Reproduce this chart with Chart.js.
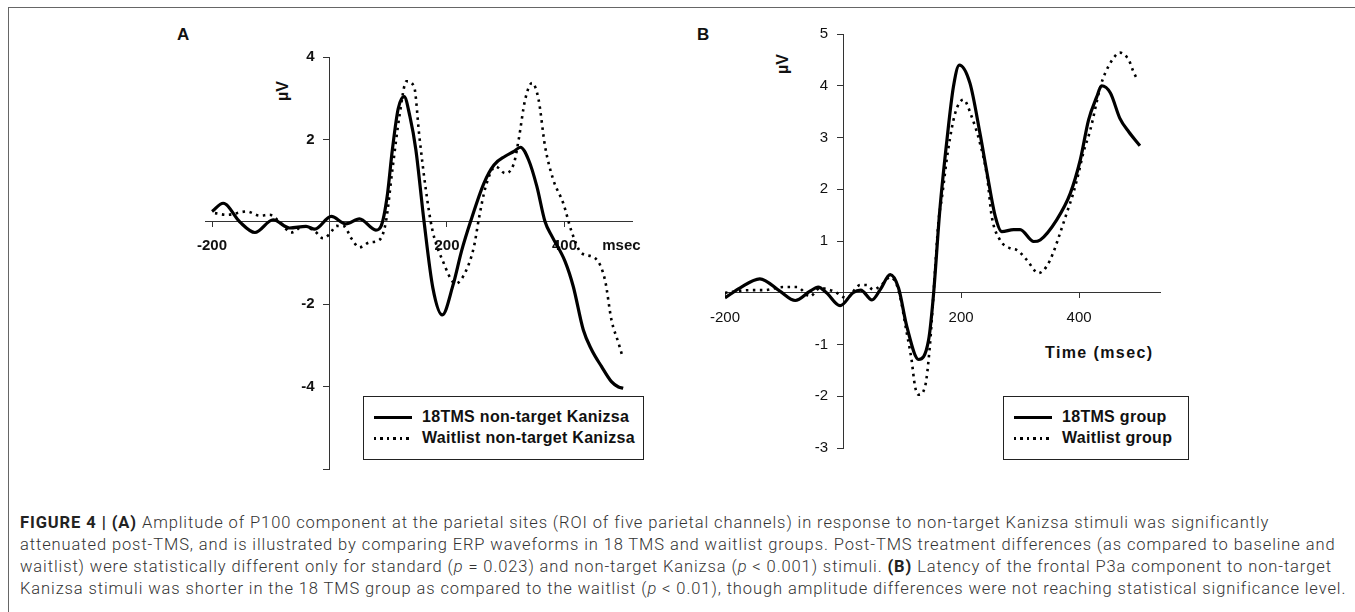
<!DOCTYPE html>
<html>
<head>
<meta charset="utf-8">
<title>ERP waveforms</title>
<script src="https://cdn.jsdelivr.net/npm/chart.js@4.4.0/dist/chart.umd.min.js"></script>
<style>
    html, body { margin: 0; padding: 0; background: #fff; }
    body { width: 1355px; height: 612px; position: relative; overflow: hidden; }
    #frame { position: absolute; left: 8px; top: 7px; width: 1360px; height: 620px;
             border-top: 1px solid #666; border-left: 1px solid #666; }
    canvas { position: absolute; }
    .lbl { position: absolute; font-family: "Liberation Sans", Arial, sans-serif; font-weight: bold; color: #111; white-space: nowrap; }
    .uv { transform: translate(-50%, -50%) rotate(-90deg); font-size: 16px; }
    .legend { position: absolute; border: 1.5px solid #222; background: #fff;
              font-family: "Liberation Sans", Arial, sans-serif; font-weight: bold; font-size: 16px; color: #111; }
    .legend .row { position: absolute; left: 0; height: 20px; line-height: 20px; white-space: nowrap; }
    .legend .smp { position: absolute; left: 10px; top: 9px; width: 38px; height: 3px; }
    .legend .solid { background: #000; }
    .legend .dots { background: repeating-linear-gradient(to right, #000 0 2.5px, transparent 2.5px 6.5px); height: 2.5px; }
    .legend .txt { position: absolute; left: 58px; top: 0; letter-spacing: 0.3px; }
    #caption { position: absolute; left: 20px; top: 512px; font-family: Roboto, "Liberation Sans", Arial, sans-serif;
               font-weight: 300; font-size: 16.5px; color: #333; }
    #caption .ln { height: 22px; line-height: 22px; white-space: nowrap; }
    #caption b { font-weight: bold; color: #222; }
</style>
</head>
<body>
<div id="frame"></div>

<div class="lbl" style="left:177px; top:25px; font-size:17px;">A</div>
<div class="lbl" style="left:697px; top:25px; font-size:17px;">B</div>
<div class="lbl uv" style="left:283px; top:91px;">µV</div>
<div class="lbl uv" style="left:783px; top:64px;">µV</div>
<div class="lbl" style="left:1045px; top:344px; font-size:16px; letter-spacing:1.4px;">Time (msec)</div>

<canvas id="chartA" width="520" height="470" style="left:150px; top:20px; width:520px; height:470px;"></canvas>
<canvas id="chartB" width="520" height="470" style="left:680px; top:10px; width:520px; height:470px;"></canvas>

<div class="legend" style="left:363px; top:396px; width:279px; height:62px;">
    <div class="row" style="top:10px;"><div class="smp solid"></div><div class="txt">18TMS non-target Kanizsa</div></div>
    <div class="row" style="top:31px;"><div class="smp dots"></div><div class="txt">Waitlist non-target Kanizsa</div></div>
</div>
<div class="legend" style="left:1003px; top:396px; width:184px; height:62px;">
    <div class="row" style="top:10px;"><div class="smp solid"></div><div class="txt">18TMS group</div></div>
    <div class="row" style="top:31px;"><div class="smp dots"></div><div class="txt">Waitlist group</div></div>
</div>

<div id="caption">
    <div class="ln"><span><b>FIGURE 4 | (A)</b> Amplitude of P100 component at the parietal sites (ROI of five parietal channels) in response to non-target Kanizsa stimuli was significantly</span></div>
    <div class="ln"><span>attenuated post-TMS, and is illustrated by comparing ERP waveforms in 18 TMS and waitlist groups. Post-TMS treatment differences (as compared to baseline and</span></div>
    <div class="ln"><span>waitlist) were statistically different only for standard (<i>p</i> = 0.023) and non-target Kanizsa (<i>p</i> &lt; 0.001) stimuli. <b>(B)</b> Latency of the frontal P3a component to non-target</span></div>
    <div class="ln"><span>Kanizsa stimuli was shorter in the 18 TMS group as compared to the waitlist (<i>p</i> &lt; 0.01), though amplitude differences were not reaching statistical significance level.</span></div>
</div>

<script>
    // panel A: parietal P100, non-target Kanizsa (ms / µV)
    const aTmsMs = [-200, -181, -153, -127, -96, -68, -40, -25, 3, 28, 51, 79, 88, 98, 107, 117, 127, 137, 147, 161, 176, 192, 210, 225, 240, 263, 280, 299, 314, 325, 339, 353, 367, 379, 401, 415, 432, 446, 463, 480, 492, 500];
    const aTmsUv = [0.25, 0.45, 0.0, -0.26, 0.05, -0.15, -0.11, -0.18, 0.13, -0.05, 0.07, -0.2, -0.1, 0.6, 1.75, 2.75, 3.04, 2.55, 1.75, 0.0, -1.61, -2.26, -1.55, -0.7, 0.0, 0.94, 1.38, 1.59, 1.71, 1.81, 1.5, 0.86, 0.0, -0.36, -0.96, -1.57, -2.62, -3.1, -3.51, -3.88, -4.01, -4.04];
    const aWaitMs = [-195, -175, -141, -119, -102, -85, -65, -45, -25, -11, 0, 12, 25, 37, 51, 68, 85, 96, 107, 119, 131, 144, 153, 164, 175, 192, 215, 232, 246, 254, 266, 283, 299, 314, 322, 333, 345, 356, 367, 381, 398, 412, 429, 452, 469, 480, 492, 498];
    const aWaitUv = [0.21, 0.17, 0.25, 0.15, 0.17, 0.0, -0.26, -0.11, -0.23, -0.4, -0.3, -0.1, -0.11, -0.4, -0.62, -0.5, -0.44, 0.0, 1.26, 2.56, 3.41, 3.28, 2.07, 0.78, -0.19, -0.92, -1.5, -1.2, -0.6, 0.05, 0.86, 1.34, 1.18, 1.42, 1.99, 2.96, 3.37, 2.96, 1.83, 1.02, 0.45, -0.23, -0.76, -0.88, -1.41, -2.38, -2.94, -3.23];
    const aXTicks = [-200, 200, 400, 497];
    const aXLabels = ['-200', '200', '400', 'msec'];
    const aYTicks = [4, 2, -2, -4, -6];
    const aYLabels = ['4', '2', '-2', '-4', ''];

    // panel B: frontal P3a
    const bTmsMs = [-200, -175, -141, -107, -81, -56, -42, -28, -5, 17, 30, 49, 63, 80, 94, 108, 128, 145, 153, 164, 176, 187, 197, 215, 232, 244, 258, 269, 289, 300, 323, 334, 362, 385, 402, 416, 430, 438, 453, 469, 484, 503];
    const bTmsUv = [-0.1, 0.09, 0.27, 0.03, -0.15, 0.03, 0.11, 0.0, -0.25, 0.0, 0.05, -0.14, 0.06, 0.35, 0.09, -0.65, -1.29, -0.91, -0.07, 1.6, 2.95, 3.98, 4.4, 4.05, 3.08, 2.31, 1.47, 1.18, 1.22, 1.22, 0.99, 1.02, 1.41, 1.92, 2.57, 3.34, 3.79, 4.0, 3.86, 3.37, 3.11, 2.84];
    const bWaitMs = [-200, -158, -135, -101, -78, -56, -39, -16, 6, 29, 40, 51, 65, 80, 94, 108, 116, 122, 128, 139, 147, 153, 162, 167, 178, 190, 204, 218, 232, 244, 252, 266, 283, 294, 311, 331, 345, 356, 365, 379, 390, 399, 407, 419, 436, 444, 458, 469, 484, 492, 498];
    const bWaitUv = [0.0, 0.05, 0.05, 0.11, 0.11, -0.07, 0.09, 0.03, -0.1, 0.15, 0.15, 0.06, 0.15, 0.3, 0.05, -0.78, -1.29, -1.81, -1.97, -1.81, -1.04, -0.07, 1.41, 1.8, 2.76, 3.47, 3.73, 3.4, 2.89, 2.25, 1.47, 1.02, 0.86, 0.83, 0.64, 0.38, 0.51, 0.77, 1.06, 1.54, 1.92, 2.31, 2.7, 3.15, 3.98, 4.24, 4.53, 4.64, 4.5, 4.27, 4.13];
    const bXTicks = [-200, 200, 400];
    const bXLabels = ['-200', '200', '400'];
    const bYTicks = [5, 4, 3, 2, 1, -1, -2, -3];
    const bYLabels = ['5', '4', '3', '2', '1', '-1', '-2', '-3'];

    // y labels of an axis placed at x=0 sit on the axis line; en spaces push them left
    const GAP = '\u2002\u2002';

    function points(xs, ys) {
        return xs.map((x, i) => ({ x: x, y: ys[i] }));
    }

    function series(label, xs, ys, dotted) {
        return {
            label: label,
            data: points(xs, ys),
            borderColor: '#000',
            borderWidth: dotted ? 2.6 : 3.2,
            borderDash: dotted ? [2.5, 4.5] : [],
            pointRadius: 0,
            cubicInterpolationMode: 'monotone',
            fill: false
        };
    }

    function fixedTicks(values) {
        return function(scale) {
            scale.ticks = values.map(v => ({ value: v }));
        };
    }

    function makePanel(id, sets, xr, yr, xt, xl, yt, yl, pad, tickFont, xPad) {
        new Chart(document.getElementById(id).getContext('2d'), {
            type: 'line',
            data: { datasets: sets },
            options: {
                responsive: false,
                animation: false,
                layout: { padding: pad },
                plugins: { legend: { display: false }, tooltip: { enabled: false } },
                scales: {
                    x: {
                        type: 'linear', min: xr[0], max: xr[1],
                        position: { y: 0 },
                        afterBuildTicks: fixedTicks(xt),
                        grid: { drawOnChartArea: false, tickLength: 5,
                                tickColor: c => (c.tick && xl[xt.indexOf(c.tick.value)] === 'msec') ? 'rgba(0,0,0,0)' : '#333' },
                        border: { color: '#333', width: 1 },
                        ticks: { autoSkip: false, maxRotation: 0, color: '#111', padding: xPad, font: tickFont,
                                 callback: (v) => xl[xt.indexOf(v)] }
                    },
                    y: {
                        type: 'linear', min: yr[0], max: yr[1],
                        position: { x: 0 },
                        afterBuildTicks: fixedTicks(yt),
                        grid: { drawOnChartArea: false, tickLength: 6, tickColor: '#333' },
                        border: { color: '#333', width: 1 },
                        ticks: { autoSkip: false, color: '#111', font: tickFont,
                                 callback: (v) => yl[yt.indexOf(v)] + GAP }
                    }
                }
            }
        });
    }

    makePanel('chartA',
        [series('18TMS non-target Kanizsa', aTmsMs, aTmsUv, false),
         series('Waitlist non-target Kanizsa', aWaitMs, aWaitUv, true)],
        [-212, 515], [-6, 4], aXTicks, aXLabels, aYTicks, aYLabels,
        { left: 55, right: 38, top: 37, bottom: 21 },
        { family: 'Liberation Sans', size: 15, weight: 'bold' }, 10);

    makePanel('chartB',
        [series('18TMS group', bTmsMs, bTmsUv, false),
         series('Waitlist group', bWaitMs, bWaitUv, true)],
        [-200, 537], [-3, 5], bXTicks, bXLabels, bYTicks, bYLabels,
        { left: 45, right: 40, top: 24, bottom: 32 },
        { family: 'Liberation Sans', size: 15 }, 11);

    // stretch caption letter spacing so the longest line spans like the original
    (function fitCaption() {
        const spans = document.querySelectorAll('#caption .ln span');
        const last = spans[3];
        const w = last.getBoundingClientRect().width;
        const spacing = (1326 - w) / last.textContent.length;
        document.getElementById('caption').style.letterSpacing = spacing + 'px';
    })();
</script>
</body>
</html>
